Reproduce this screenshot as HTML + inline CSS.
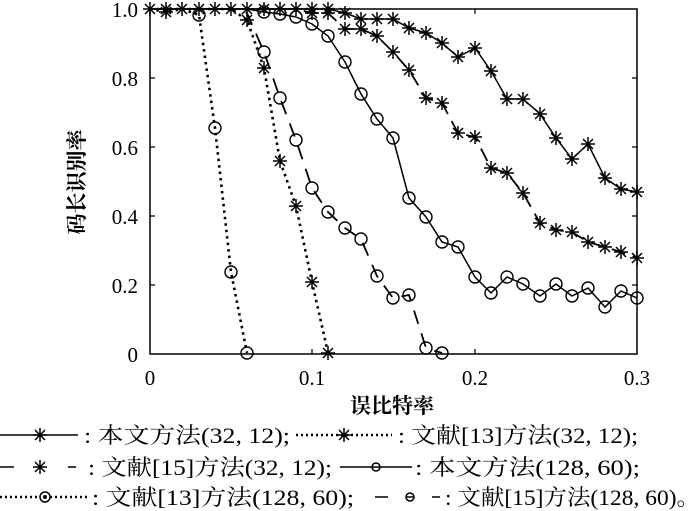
<!DOCTYPE html>
<html><head><meta charset="utf-8"><style>body{margin:0;background:#fff}svg{display:block}</style></head><body>
<svg width="700" height="511" viewBox="0 0 700 511" xmlns="http://www.w3.org/2000/svg" font-family="'Liberation Serif','Noto Serif CJK SC',serif">
<defs>
<g id="st" stroke="#000" stroke-width="1.5" fill="none"><path d="M-7,0H7M0,-7V7M-5,-5L5,5M-5,5L5,-5"/></g>
<circle id="ci" r="6" fill="none" stroke="#000" stroke-width="1.4"/>
</defs>
<rect x="150" y="9" width="487" height="345" fill="none" stroke="#000" stroke-width="1.5"/>
<g stroke="#000" stroke-width="1.2">
<path d="M312,354v-5M475,354v-5M312,9v5M475,9v5M150,285h5M150,216h5M150,147h5M150,78h5M637,285h-5M637,216h-5M637,147h-5M637,78h-5"/>
</g>
<g font-size="21" text-anchor="end">
<text x="138" y="17">1.0</text><text x="138" y="86">0.8</text><text x="138" y="155">0.6</text><text x="138" y="224">0.4</text><text x="138" y="293">0.2</text><text x="138" y="362">0</text>
</g>
<g font-size="21" text-anchor="middle">
<text x="150" y="385">0</text><text x="312" y="385">0.1</text><text x="475" y="385">0.2</text><text x="637" y="385">0.3</text>
<text x="392" y="413" font-size="21" font-weight="bold">误比特率</text>
<text transform="translate(84,182) rotate(-90)" font-size="21" font-weight="bold">码长识别率</text>
</g>
<g fill="none" stroke="#000" stroke-width="1.5">
<polyline points="150,9 166,9 182,9 199,9 215,9 231,9 247,9 264,9 280,9 296,9 312,9 328,9 345,13 361,19 377,19 393,19 409,28 426,33 442,43 458,57 475,48 491,71 507,99 523,99 540,114 556,138 572,159 588,144 605,178 621,189 637,192"/>
<polyline points="150,9 166,12 182,9 199,9 215,9 231,9 247,20 264,68 280,161 296,206 312,282 328,353" stroke-dasharray="2.5,4" stroke-width="2.6"/>
<polyline points="150,9 166,9 182,9 199,9 215,9 231,9 247,9 264,9 280,9 296,9 312,13 328,13 345,29 361,29 377,36 393,52 409,70 426,98 442,103 458,133 475,137 491,168 507,173 523,193 540,223 556,230 572,232 588,242 605,247 621,252 637,258" stroke-dasharray="14,8" stroke-width="1.8"/>
<polyline points="150,9 166,9 182,9 199,9 215,9 231,9 247,9 264,12 280,14 296,17 312,24 328,36 345,62 361,94 377,119 393,138 409,198 426,217 442,242 458,247 475,277 491,293 507,277 523,284 540,296 556,284 572,296 588,288 605,307 621,291 637,298"/>
<polyline points="150,9 166,9 182,9 199,15 215,128 231,272 247,353" stroke-dasharray="2.5,4" stroke-width="2.6"/>
<polyline points="150,9 166,9 182,9 199,9 215,9 231,9 247,13 264,52 280,98 296,140 312,188 328,212 345,228 361,239 377,276 393,298 409,295 426,348 442,353" stroke-dasharray="14,10" stroke-width="1.8"/>
</g>
<g>
<use href="#st" x="150" y="9"/><use href="#st" x="166" y="9"/><use href="#st" x="182" y="9"/><use href="#st" x="199" y="9"/><use href="#st" x="215" y="9"/><use href="#st" x="231" y="9"/><use href="#st" x="247" y="9"/><use href="#st" x="264" y="9"/><use href="#st" x="280" y="9"/><use href="#st" x="296" y="9"/><use href="#st" x="312" y="9"/><use href="#st" x="328" y="9"/><use href="#st" x="345" y="13"/><use href="#st" x="361" y="19"/><use href="#st" x="377" y="19"/><use href="#st" x="393" y="19"/><use href="#st" x="409" y="28"/><use href="#st" x="426" y="33"/><use href="#st" x="442" y="43"/><use href="#st" x="458" y="57"/><use href="#st" x="475" y="48"/><use href="#st" x="491" y="71"/><use href="#st" x="507" y="99"/><use href="#st" x="523" y="99"/><use href="#st" x="540" y="114"/><use href="#st" x="556" y="138"/><use href="#st" x="572" y="159"/><use href="#st" x="588" y="144"/><use href="#st" x="605" y="178"/><use href="#st" x="621" y="189"/><use href="#st" x="637" y="192"/>
<use href="#st" x="166" y="12"/><use href="#st" x="247" y="20"/><use href="#st" x="264" y="68"/><use href="#st" x="280" y="161"/><use href="#st" x="296" y="206"/><use href="#st" x="312" y="282"/><use href="#st" x="328" y="353"/>
<use href="#st" x="312" y="13"/><use href="#st" x="328" y="13"/><use href="#st" x="345" y="29"/><use href="#st" x="361" y="29"/><use href="#st" x="377" y="36"/><use href="#st" x="393" y="52"/><use href="#st" x="409" y="70"/><use href="#st" x="426" y="98"/><use href="#st" x="442" y="103"/><use href="#st" x="458" y="133"/><use href="#st" x="475" y="137"/><use href="#st" x="491" y="168"/><use href="#st" x="507" y="173"/><use href="#st" x="523" y="193"/><use href="#st" x="540" y="223"/><use href="#st" x="556" y="230"/><use href="#st" x="572" y="232"/><use href="#st" x="588" y="242"/><use href="#st" x="605" y="247"/><use href="#st" x="621" y="252"/><use href="#st" x="637" y="258"/>
<use href="#ci" x="199" y="15"/><use href="#ci" x="215" y="128"/><use href="#ci" x="231" y="272"/><use href="#ci" x="247" y="353"/>
<use href="#ci" x="264" y="12"/><use href="#ci" x="280" y="14"/><use href="#ci" x="296" y="17"/><use href="#ci" x="312" y="24"/><use href="#ci" x="328" y="36"/><use href="#ci" x="345" y="62"/><use href="#ci" x="361" y="94"/><use href="#ci" x="377" y="119"/><use href="#ci" x="393" y="138"/><use href="#ci" x="409" y="198"/><use href="#ci" x="426" y="217"/><use href="#ci" x="442" y="242"/><use href="#ci" x="458" y="247"/><use href="#ci" x="475" y="277"/><use href="#ci" x="491" y="293"/><use href="#ci" x="507" y="277"/><use href="#ci" x="523" y="284"/><use href="#ci" x="540" y="296"/><use href="#ci" x="556" y="284"/><use href="#ci" x="572" y="296"/><use href="#ci" x="588" y="288"/><use href="#ci" x="605" y="307"/><use href="#ci" x="621" y="291"/><use href="#ci" x="637" y="298"/>
<use href="#ci" x="264" y="52"/><use href="#ci" x="280" y="98"/><use href="#ci" x="296" y="140"/><use href="#ci" x="312" y="188"/><use href="#ci" x="328" y="212"/><use href="#ci" x="345" y="228"/><use href="#ci" x="361" y="239"/><use href="#ci" x="377" y="276"/><use href="#ci" x="393" y="298"/><use href="#ci" x="409" y="295"/><use href="#ci" x="426" y="348"/><use href="#ci" x="442" y="353"/>
</g>
<g stroke="#000" stroke-width="1.5" fill="none">
<path d="M0,435H78"/><use href="#st" x="40" y="435"/>
<path d="M296,435H392" stroke-dasharray="2,3" stroke-width="2.4"/><use href="#st" x="344" y="435"/>
<path d="M0,467H14M68,467H76"/><use href="#st" x="40" y="467"/>
<path d="M340,467H412"/><circle cx="376" cy="467" r="4"/>
<path d="M0,497H90" stroke-dasharray="2,3" stroke-width="2.4"/><circle cx="45" cy="497" r="5" fill="#fff"/><circle cx="45" cy="497" r="1.2" fill="#000"/>
<path d="M375,497H388M432,497H440"/><circle cx="410" cy="497" r="4"/><path d="M406,497h8"/>
</g>
<g font-size="22">
<text x="84" y="443" textLength="206" lengthAdjust="spacingAndGlyphs">: 本文方法(32, 12);</text>
<text x="398" y="443" textLength="240" lengthAdjust="spacingAndGlyphs">: 文献[13]方法(32, 12);</text>
<text x="88" y="475" textLength="244" lengthAdjust="spacingAndGlyphs">: 文献[15]方法(32, 12);</text>
<text x="415" y="475" textLength="225" lengthAdjust="spacingAndGlyphs">: 本文方法(128, 60);</text>
<text x="92" y="505" textLength="262" lengthAdjust="spacingAndGlyphs">: 文献[13]方法(128, 60);</text>
<text x="445" y="505" textLength="255" lengthAdjust="spacingAndGlyphs">: 文献[15]方法(128, 60)。</text>
</g>
</svg>
</body></html>
